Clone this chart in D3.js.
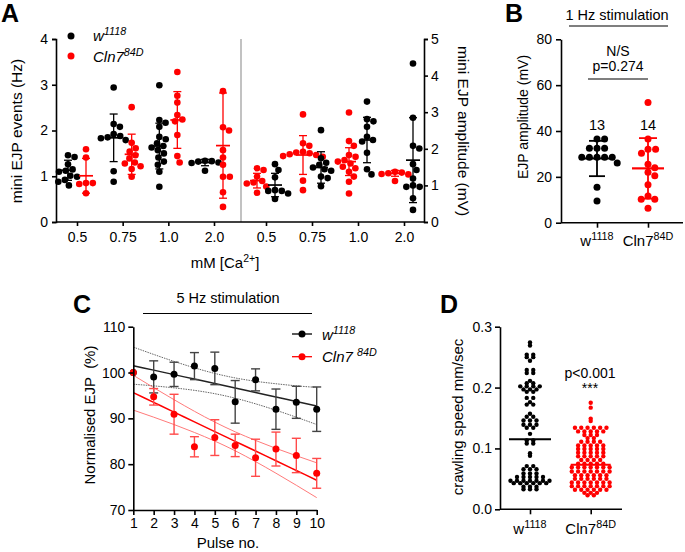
<!DOCTYPE html>
<html><head><meta charset="utf-8">
<script src="https://cdn.jsdelivr.net/npm/d3@7"></script>
<style>
body{margin:0;background:#fff}
svg{display:block;font-family:"Liberation Sans",Arial,Helvetica,sans-serif}
</style>
</head><body>
<svg id="fig" width="685" height="552"></svg>
<script>
// ---------------- DATA ----------------
// Panel A
const caLevels = ["0.5", "0.75", "1.0", "2.0"];
const freqTicks = [0, 1, 2, 3, 4];
const ampTicks = [0, 1, 2, 3, 4, 5];
const freqW = [
  [1.46, 1.42, 1.26, 1.15, 1.12, 1.10, 1.01, 0.99, 0.92, 0.88, 0.80],
  [2.94, 2.14, 2.08, 1.92, 1.88, 1.85, 1.83, 1.79, 1.11, 0.88],
  [2.99, 2.23, 2.17, 2.08, 1.86, 1.81, 1.72, 1.66, 1.63, 1.57, 1.50, 1.41, 1.32, 1.25, 1.10, 0.77],
  [1.34, 1.33, 1.32, 1.30, 1.29, 1.12]
];
const freqC = [
  [1.59, 1.41, 0.85, 0.85, 0.83, 0.63],
  [2.51, 1.73, 1.61, 1.54, 1.46, 1.39, 1.30, 1.28, 1.22, 1.16, 0.99],
  [3.28, 2.76, 2.61, 2.34, 2.24, 2.20, 1.90, 1.44, 1.30],
  [2.86, 2.07, 2.00, 1.57, 1.41, 1.25, 0.99, 0.99, 0.65, 0.33]
];
const freqWMean = [1.13, 1.84, 1.66, 1.30];
const freqWSD = [0.22, 0.52, 0.50, 0.07];
const freqCMean = [1.01, 1.48, 2.23, 1.67];
const freqCSD = [0.38, 0.44, 0.62, 1.15];

const ampC = [
  [1.47, 1.42, 1.24, 1.12, 1.08, 1.05, 0.97, 0.80],
  [2.94, 2.15, 2.08, 1.92, 1.90, 1.88, 1.85, 1.83, 1.80, 1.78, 1.13, 0.87],
  [2.99, 2.21, 2.08, 1.83, 1.78, 1.69, 1.65, 1.60, 1.51, 1.47, 1.37, 1.24, 1.10, 0.78],
  [1.37, 1.35, 1.33, 1.31, 1.30, 1.12]
];
const ampW = [
  [1.58, 1.42, 1.22, 0.87, 0.85, 0.85, 0.78, 0.63],
  [2.51, 1.74, 1.62, 1.56, 1.49, 1.44, 1.40, 1.24, 1.20, 0.98],
  [3.29, 2.81, 2.75, 2.60, 2.33, 2.24, 2.20, 1.89, 1.44, 1.30],
  [4.33, 2.85, 2.08, 2.01, 1.58, 1.42, 1.19, 1.00, 0.96, 0.96, 0.65, 0.33]
];
const ampCMean = [1.13, 1.83, 1.65, 1.33];
const ampCSD = [0.20, 0.53, 0.38, 0.08];
const ampWMean = [1.01, 1.49, 2.24, 1.69];
const ampWSD = [0.32, 0.43, 0.62, 1.16];

// Panel B
const bTicks = [0, 20, 40, 60, 80];
const bW = [36.5, 36.5, 32.5, 32.5, 32.5, 28.5, 28.5, 28.5, 28.5, 28.5, 26, 15.5, 9.5];
const bC = [52.4, 36.5, 32, 32, 30.3, 25.5, 24, 22, 20.5, 16.5, 11.7, 10.2, 10.2, 6.3];
const bMean = [28.0, 23.7];
const bSD = [7.7, 13.2];
const bN = ["13", "14"];

// Panel C
const pulses = [1, 2, 3, 4, 5, 6, 7, 8, 9, 10];
const cTicks = [70, 80, 90, 100, 110];
const cW = [100, 99.05, 99.6, 101.4, 100.9, 93.6, 98.4, 92.0, 93.5, 92.0];
const cWErr = [0, 3.5, 2.65, 2.95, 3.55, 4.65, 2.4, 4.4, 3.5, 4.85];
const cC = [100, 94.7, 90.9, 83.8, 85.8, 84.1, 81.4, 83.3, 81.9, 78.0];
const cCErr = [0, 1.8, 4.35, 2.2, 3.9, 2.45, 4.05, 3.7, 3.75, 3.25];
const cWFit = [101.5, 100.52, 99.54, 98.57, 97.59, 96.61, 95.63, 94.66, 93.68, 92.7];
const cWUpper = [105.55, 103.95, 102.43, 101.03, 99.8, 98.82, 98.09, 97.55, 97.1, 96.75];
const cWLower = [97.45, 97.09, 96.65, 96.11, 95.38, 94.4, 93.17, 91.77, 90.25, 88.65];
const cCFit = [95.6, 93.48, 91.36, 89.23, 87.11, 84.99, 82.87, 80.74, 78.62, 76.5];
const cCUpper = [99.4, 96.7, 94.07, 91.54, 89.18, 87.06, 85.18, 83.45, 81.84, 80.3];
const cCLower = [91.8, 90.26, 88.65, 86.92, 85.04, 82.92, 80.56, 78.03, 75.4, 72.7];

// Panel D (values repeated per row, as plotted)
const dTicks = [0.0, 0.1, 0.2, 0.3];
const dW = [0.274, 0.269, 0.254, 0.254, 0.250, 0.250, 0.244, 0.229, 0.229, 0.224, 0.224,
  0.211, 0.207, 0.207, 0.202, 0.202, 0.202, 0.202, 0.197, 0.197, 0.197, 0.193, 0.193,
  0.183, 0.183, 0.176, 0.172, 0.172, 0.157, 0.152, 0.152, 0.146, 0.146, 0.146,
  0.139, 0.139, 0.139, 0.134, 0.134, 0.124, 0.113, 0.113, 0.108, 0.108, 0.092, 0.088,
  0.071, 0.071, 0.066, 0.066, 0.066, 0.059, 0.059, 0.059,
  0.053, 0.053, 0.053, 0.053, 0.053,
  0.047, 0.047, 0.047, 0.047, 0.047, 0.047, 0.047,
  0.043, 0.043, 0.043, 0.043, 0.043, 0.043, 0.037, 0.037, 0.037, 0.033, 0.033, 0.033];
const dC = [0.175, 0.167, 0.149, 0.145,
  0.134, 0.134, 0.134, 0.134, 0.134, 0.134, 0.128, 0.128, 0.128, 0.128, 0.128,
  0.122, 0.122, 0.122, 0.117, 0.117, 0.111, 0.111, 0.111, 0.111,
  0.105, 0.105, 0.105, 0.105, 0.105, 0.099, 0.099, 0.099, 0.099, 0.099,
  0.093, 0.093, 0.093, 0.093, 0.093, 0.087, 0.087, 0.087, 0.087, 0.087,
  0.081, 0.081, 0.081, 0.081, 0.075, 0.075, 0.075, 0.075, 0.075,
  0.069, 0.069, 0.069, 0.069, 0.069, 0.069, 0.069,
  0.062, 0.062, 0.062, 0.062, 0.062, 0.062, 0.062,
  0.056, 0.056, 0.056, 0.056, 0.056, 0.056,
  0.050, 0.050, 0.050, 0.050, 0.050, 0.050,
  0.044, 0.044, 0.044, 0.044, 0.044, 0.044, 0.044,
  0.038, 0.038, 0.038, 0.038, 0.038, 0.038, 0.038,
  0.032, 0.032, 0.032, 0.032, 0.032, 0.032,
  0.027, 0.027, 0.027, 0.023, 0.023];
const dMean = [0.115, 0.073];

// ---------------- HELPERS ----------------
const BLACK = "#000", RED = "#ff0000";
const svg = d3.select("#fig");

function swarm(values, spacing, y) {
  const pts = values.map(v => ({ v, y: y(v), x: 0 }));
  const order = pts.slice().sort((a, b) => a.y - b.y);
  const placed = [];
  const d2 = spacing * spacing;
  for (const p of order) {
    const cands = [0];
    for (const q of placed) {
      const dy = Math.abs(q.y - p.y);
      if (dy < spacing) {
        const dx = Math.sqrt(d2 - dy * dy);
        cands.push(q.x + dx + 0.01, q.x - dx - 0.01);
      }
    }
    cands.sort((a, b) => Math.abs(a) - Math.abs(b) || b - a);
    for (const c of cands) {
      if (placed.every(q => (q.x - c) ** 2 + (q.y - p.y) ** 2 >= d2 - 0.05)) { p.x = c; break; }
    }
    placed.push(p);
  }
  return pts;
}

// row layout: equal values share a row, centered side by side
function rows(values, spacing, y) {
  const groups = d3.group(values, v => v);
  const pts = [];
  for (const [v, arr] of groups) {
    const n = arr.length;
    arr.forEach((_, k) => pts.push({ v, y: y(v), x: (k - (n - 1) / 2) * spacing }));
  }
  return pts;
}

function styleAxis(g, fs) {
  g.selectAll("path,line").attr("stroke", "#000").attr("stroke-width", 1.6);
  g.selectAll("text").attr("font-size", fs).attr("fill", "#000")
    .attr("font-family", '"Liberation Sans",Arial,sans-serif');
}

function scatterGroup(g, values, cx, y, color, r, spacing, mean, sd, halfMean, halfCap, lw, layout) {
  const pts = (layout || swarm)(values, spacing, y);
  g.append("g").selectAll("circle").data(pts).join("circle")
    .attr("cx", p => cx + p.x).attr("cy", p => p.y).attr("r", r).attr("fill", color);
  if (sd !== null) {
    const e = g.append("g").attr("stroke", color).attr("stroke-width", lw);
    e.append("line").attr("x1", cx).attr("x2", cx).attr("y1", y(mean + sd)).attr("y2", y(mean - sd));
    e.append("line").attr("x1", cx - halfCap).attr("x2", cx + halfCap).attr("y1", y(mean + sd)).attr("y2", y(mean + sd));
    e.append("line").attr("x1", cx - halfCap).attr("x2", cx + halfCap).attr("y1", y(mean - sd)).attr("y2", y(mean - sd));
  }
  g.append("line").attr("stroke", color).attr("stroke-width", lw + 0.4)
    .attr("x1", cx - halfMean).attr("x2", cx + halfMean).attr("y1", y(mean)).attr("y2", y(mean));
}

function supText(g, x, y, base, sup, opts) {
  const t = g.append("text").attr("x", x).attr("y", y)
    .attr("font-size", opts.fs).attr("text-anchor", opts.anchor || "start")
    .attr("font-style", opts.italic ? "italic" : "normal").attr("fill", "#000");
  t.append("tspan").text(base);
  t.append("tspan").attr("dy", -opts.fs * 0.4).attr("font-size", opts.fs * 0.72).text(sup);
  return t;
}

function panelLetter(x, y, s) {
  svg.append("text").attr("x", x).attr("y", y).attr("font-size", 25).attr("font-weight", "bold")
    .attr("font-family", '"Liberation Sans",Arial,sans-serif').text(s);
}

// ---------------- PANEL A ----------------
{
  const g = svg.append("g");
  const yF = d3.scaleLinear().domain([0, 4]).range([222, 39]);
  const yA = d3.scaleLinear().domain([0, 5]).range([222, 39]);
  const xL = d3.scalePoint().domain(caLevels).range([77, 214]);
  const xR = d3.scalePoint().domain(caLevels).range([266, 404]);
  const leftX = 56, rightX = 424;

  g.append("line").attr("x1", 241).attr("x2", 241).attr("y1", 39).attr("y2", 222)
    .attr("stroke", "#999").attr("stroke-width", 1.2);

  caLevels.forEach((c, i) => {
    scatterGroup(g, freqW[i], xL(c) - 9, yF, BLACK, 3.3, 6.8, freqWMean[i], freqWSD[i], 7, 4, 1.3);
    scatterGroup(g, freqC[i], xL(c) + 9, yF, RED, 3.3, 6.8, freqCMean[i], freqCSD[i], 7, 4, 1.3);
    scatterGroup(g, ampC[i], xR(c) - 9, yA, RED, 3.3, 6.8, ampCMean[i], ampCSD[i], 7, 4, 1.3);
    scatterGroup(g, ampW[i], xR(c) + 9, yA, BLACK, 3.3, 6.8, ampWMean[i], ampWSD[i], 7, 4, 1.3);
  });

  const ay = g.append("g").attr("transform", `translate(${leftX},0)`)
    .call(d3.axisLeft(yF).tickValues(freqTicks).tickFormat(d3.format("d")).tickSizeOuter(0).tickSize(4).tickPadding(4));
  styleAxis(ay, 14);
  const ar = g.append("g").attr("transform", `translate(${rightX},0)`)
    .call(d3.axisRight(yA).tickValues(ampTicks).tickFormat(d3.format("d")).tickSizeOuter(0).tickSize(4).tickPadding(3));
  styleAxis(ar, 14);
  g.append("line").attr("x1", leftX).attr("x2", rightX).attr("y1", 222).attr("y2", 222)
    .attr("stroke", "#000").attr("stroke-width", 1.6);
  const ax1 = g.append("g").attr("transform", "translate(0,222)")
    .call(d3.axisBottom(xL).tickSize(4).tickPadding(6).tickSizeOuter(0));
  ax1.select(".domain").remove();
  styleAxis(ax1, 14);
  const ax2 = g.append("g").attr("transform", "translate(0,222)")
    .call(d3.axisBottom(xR).tickSize(4).tickPadding(6).tickSizeOuter(0));
  ax2.select(".domain").remove();
  styleAxis(ax2, 14);

  g.append("text").attr("transform", "translate(22,131) rotate(-90)").attr("text-anchor", "middle")
    .attr("font-size", 15.5).text("mini EJP events (Hz)");
  g.append("text").attr("transform", "translate(458,131) rotate(90)").attr("text-anchor", "middle")
    .attr("font-size", 15.5).text("mini EJP amplitude (mV)");
  const xt = g.append("text").attr("x", 225).attr("y", 268).attr("text-anchor", "middle").attr("font-size", 15);
  xt.append("tspan").text("mM [Ca");
  xt.append("tspan").attr("dy", -6).attr("font-size", 10.5).text("2+");
  xt.append("tspan").attr("dy", 6).text("]");

  g.append("circle").attr("cx", 71).attr("cy", 36).attr("r", 3.5).attr("fill", BLACK);
  g.append("circle").attr("cx", 71).attr("cy", 56).attr("r", 3.5).attr("fill", RED);
  supText(g, 93, 41, "w", "1118", { fs: 15, italic: true });
  supText(g, 93, 62, "Cln7", "84D", { fs: 15, italic: true });
}
panelLetter(1, 22, "A");

// ---------------- PANEL B ----------------
{
  const g = svg.append("g");
  const y = d3.scaleLinear().domain([0, 80]).range([222.7, 39.3]);
  const x = d3.scalePoint().domain(["w", "c"]).range([597, 648]);
  scatterGroup(g, bW, x("w"), y, BLACK, 3.5, 7.6, bMean[0], bSD[0], 17, 8, 1.8);
  scatterGroup(g, bC, x("c"), y, RED, 3.5, 7.6, bMean[1], bSD[1], 16, 9, 1.8);
  const ay = g.append("g").attr("transform", "translate(561,0)")
    .call(d3.axisLeft(y).tickValues(bTicks).tickSize(5).tickPadding(4).tickSizeOuter(0));
  styleAxis(ay, 14);
  const ax = g.append("g").attr("transform", "translate(0,222.7)")
    .call(d3.axisBottom(x).tickSize(5).tickFormat(() => "").tickSizeOuter(0));
  ax.select(".domain").remove();
  styleAxis(ax, 14);
  g.append("line").attr("x1", 561).attr("x2", 683).attr("y1", 222.7).attr("y2", 222.7)
    .attr("stroke", "#000").attr("stroke-width", 1.6);
  supText(g, x("w"), 246, "w", "1118", { fs: 15, anchor: "middle" });
  supText(g, x("c"), 246, "Cln7", "84D", { fs: 15, anchor: "middle" });
  g.append("text").attr("transform", "translate(528,117) rotate(-90)").attr("text-anchor", "middle")
    .attr("font-size", 14).text("EJP amplitude (mV)");
  g.append("text").attr("x", 617).attr("y", 20).attr("text-anchor", "middle").attr("font-size", 14.5).text("1 Hz stimulation");
  g.append("line").attr("x1", 569).attr("x2", 668).attr("y1", 26).attr("y2", 26).attr("stroke", "#000").attr("stroke-width", 1.2);
  g.append("text").attr("x", 618).attr("y", 56).attr("text-anchor", "middle").attr("font-size", 14).text("N/S");
  g.append("text").attr("x", 618).attr("y", 71).attr("text-anchor", "middle").attr("font-size", 14).text("p=0.274");
  g.append("line").attr("x1", 588).attr("x2", 648).attr("y1", 79).attr("y2", 79).attr("stroke", "#000").attr("stroke-width", 1.2);
  g.append("text").attr("x", x("w")).attr("y", 130).attr("text-anchor", "middle").attr("font-size", 14.5).text(bN[0]);
  g.append("text").attr("x", x("c")).attr("y", 130).attr("text-anchor", "middle").attr("font-size", 14.5).text(bN[1]);
}
panelLetter(505, 22, "B");

// ---------------- PANEL C ----------------
{
  const g = svg.append("g");
  const x = d3.scaleLinear().domain([1, 10]).range([133.3, 316.7]);
  const y = d3.scaleLinear().domain([70, 110]).range([510, 326.7]);
  const line = d3.line().x((d, i) => x(pulses[i])).y(d => y(d)).curve(d3.curveMonotoneX);
  g.append("path").datum(cWUpper).attr("d", line).attr("fill", "none").attr("stroke", "#666").attr("stroke-width", 1).attr("stroke-dasharray", "1.5,1");
  g.append("path").datum(cWLower).attr("d", line).attr("fill", "none").attr("stroke", "#666").attr("stroke-width", 1).attr("stroke-dasharray", "1.5,1");
  g.append("path").datum(cCUpper).attr("d", line).attr("fill", "none").attr("stroke", "#ff7a7a").attr("stroke-width", 1);
  g.append("path").datum(cCLower).attr("d", line).attr("fill", "none").attr("stroke", "#ff7a7a").attr("stroke-width", 1);
  g.append("path").datum(cWFit).attr("d", line).attr("fill", "none").attr("stroke", "#222").attr("stroke-width", 1.5);
  g.append("path").datum(cCFit).attr("d", line).attr("fill", "none").attr("stroke", RED).attr("stroke-width", 1.5);
  function errs(vals, errsArr, color) {
    const e = g.append("g").attr("stroke", color).attr("stroke-width", 1.4);
    vals.forEach((v, i) => {
      if (!errsArr[i]) return;
      const px = x(pulses[i]);
      e.append("line").attr("x1", px).attr("x2", px).attr("y1", y(v + errsArr[i])).attr("y2", y(v - errsArr[i]));
      e.append("line").attr("x1", px - 4.5).attr("x2", px + 4.5).attr("y1", y(v + errsArr[i])).attr("y2", y(v + errsArr[i]));
      e.append("line").attr("x1", px - 4.5).attr("x2", px + 4.5).attr("y1", y(v - errsArr[i])).attr("y2", y(v - errsArr[i]));
    });
  }
  errs(cW, cWErr, "#444");
  errs(cC, cCErr, "#ff4a4a");
  g.append("g").selectAll("circle").data(cW).join("circle")
    .attr("cx", (d, i) => x(pulses[i])).attr("cy", d => y(d)).attr("r", 3.5).attr("fill", BLACK);
  g.append("g").selectAll("circle").data(cC).join("circle")
    .attr("cx", (d, i) => x(pulses[i])).attr("cy", d => y(d)).attr("r", 3.5).attr("fill", RED);

  const ay = g.append("g").attr("transform", "translate(133.3,0)")
    .call(d3.axisLeft(y).tickValues(cTicks).tickSize(5).tickPadding(3).tickSizeOuter(0));
  styleAxis(ay, 14);
  const ax = g.append("g").attr("transform", "translate(0,510)")
    .call(d3.axisBottom(x).tickValues(pulses).tickFormat(d3.format("d")).tickSize(5).tickPadding(3).tickSizeOuter(0));
  styleAxis(ax, 14);
  g.append("text").attr("transform", "translate(95,415) rotate(-90)").attr("text-anchor", "middle")
    .attr("font-size", 15).attr("xml:space", "preserve").text("Normalised EJP  (%)");
  g.append("text").attr("x", 228).attr("y", 548).attr("text-anchor", "middle").attr("font-size", 15).text("Pulse no.");
  g.append("text").attr("x", 228).attr("y", 303).attr("text-anchor", "middle").attr("font-size", 14.5).text("5 Hz stimulation");
  g.append("line").attr("x1", 143).attr("x2", 312).attr("y1", 313.5).attr("y2", 313.5).attr("stroke", "#000").attr("stroke-width", 1.2);
  g.append("line").attr("x1", 292).attr("x2", 312).attr("y1", 334).attr("y2", 334).attr("stroke", "#000").attr("stroke-width", 1.3);
  g.append("circle").attr("cx", 302).attr("cy", 334).attr("r", 3.5).attr("fill", BLACK);
  g.append("line").attr("x1", 292).attr("x2", 312).attr("y1", 356.7).attr("y2", 356.7).attr("stroke", RED).attr("stroke-width", 1.3);
  g.append("circle").attr("cx", 302).attr("cy", 356.7).attr("r", 3.5).attr("fill", RED);
  supText(g, 322, 340, "w", "1118", { fs: 15, italic: true });
  supText(g, 322, 362, "Cln7 ", "84D", { fs: 15, italic: true }).attr("xml:space", "preserve");
}
panelLetter(73, 313, "C");

// ---------------- PANEL D ----------------
{
  const g = svg.append("g");
  const y = d3.scaleLinear().domain([0, 0.3]).range([509.3, 326.7]);
  const x = d3.scalePoint().domain(["w", "c"]).range([530, 590.7]);
  scatterGroup(g, dW, x("w"), y, BLACK, 2.2, 6.5, dMean[0], null, 21, 0, 1.6, rows);
  scatterGroup(g, dC, x("c"), y, RED, 2.2, 6.3, dMean[1], null, 20, 0, 1.6, rows);
  const ay = g.append("g").attr("transform", "translate(500,0)")
    .call(d3.axisLeft(y).tickValues(dTicks).tickFormat(d3.format(".1f")).tickSize(5).tickPadding(3).tickSizeOuter(0));
  styleAxis(ay, 14);
  const ax = g.append("g").attr("transform", "translate(0,509.3)")
    .call(d3.axisBottom(x).tickSize(5).tickFormat(() => "").tickSizeOuter(0));
  ax.select(".domain").remove();
  styleAxis(ax, 14);
  g.append("line").attr("x1", 500).attr("x2", 622).attr("y1", 509.3).attr("y2", 509.3)
    .attr("stroke", "#000").attr("stroke-width", 1.6);
  supText(g, x("w"), 534, "w", "1118", { fs: 15, anchor: "middle" });
  supText(g, x("c"), 534, "Cln7", "84D", { fs: 15, anchor: "middle" });
  g.append("text").attr("transform", "translate(463,417) rotate(-90)").attr("text-anchor", "middle")
    .attr("font-size", 15).text("crawling speed mm/sec");
  g.append("text").attr("x", 590).attr("y", 378).attr("text-anchor", "middle").attr("font-size", 14).text("p<0.001");
  g.append("text").attr("x", 590).attr("y", 393).attr("text-anchor", "middle").attr("font-size", 14).text("***");
}
panelLetter(440, 313, "D");
</script>
</body></html>
